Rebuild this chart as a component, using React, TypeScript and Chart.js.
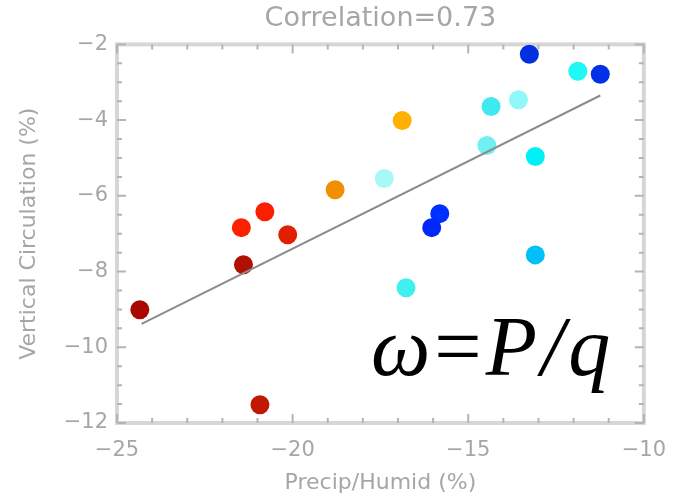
import React, { useEffect, useRef } from "react";
import { Chart, registerables } from "chart.js";

Chart.register(...registerables);

// ---- data ----
const precipHumid = [
  -24.35, -21.4, -21.46, -20.79, -20.14, -20.93, -18.79, -16.88, -17.39, -16.77,
  -15.81, -16.04, -14.47, -14.35, -13.57, -13.09, -13.09, -13.26, -11.88, -11.24,
];
const verticalCirc = [
  -9.01, -7.82, -6.84, -6.42, -7.03, -11.52, -5.84, -4.01, -5.54, -8.43,
  -6.47, -6.84, -4.67, -3.64, -3.46, -4.96, -7.56, -2.26, -2.71, -2.79,
];
const pointColors = [
  "#a80800", "#b01000", "#ff2000", "#f82000", "#e02000", "#c01800", "#f09000", "#ffb000", "#a8f8f8", "#40f0f0",
  "#0030ff", "#0028f8", "#70f0f0", "#40e8f0", "#90f8f8", "#00f0f8", "#00c0f8", "#0030e0", "#20f8f8", "#0030e8",
];
const fitX = [-24.3, -11.24];
const fitY = [-9.38, -3.35];
const xTickValues = [-25, -20, -15, -10];
const yTickValues = [-12, -10, -8, -6, -4, -2];
const titleText = "Correlation=0.73";
const xLabel = "Precip/Humid (%)";
const yLabel = "Vertical Circulation (%)";
const formulaGlyphs = ["\u03c9", "=", "P", "/", "q"];

const GRAY = "#a6a6a6";
const FONT = "'DejaVu Sans', sans-serif";

const fmt = (v: number) => (v < 0 ? "\u2212" + Math.abs(v) : String(v));

const framePlugin = {
  id: "frameTicks",
  beforeDatasetsDraw(chart: any) {
    const { ctx, chartArea } = chart;
    const xs = chart.scales.x;
    const ys = chart.scales.y;
    const { left, right, top, bottom } = chartArea;
    ctx.save();
    ctx.strokeStyle = "#d6d6d6";
    ctx.lineWidth = 4;
    ctx.strokeRect(left, top, right - left, bottom - top);
    ctx.strokeStyle = "#b4b4b4";
    ctx.lineWidth = 2;
    ctx.beginPath();
    for (let v = xs.min; v <= xs.max + 1e-9; v += 1) {
      const px = xs.getPixelForValue(v);
      const len = Math.abs(v % 5) < 1e-9 ? 9 : 5;
      ctx.moveTo(px, bottom);
      ctx.lineTo(px, bottom - len);
      ctx.moveTo(px, top);
      ctx.lineTo(px, top + len);
    }
    for (let v = ys.min; v <= ys.max + 1e-9; v += 0.5) {
      const py = ys.getPixelForValue(v);
      const len = Math.abs(v % 2) < 1e-9 ? 9 : 5;
      ctx.moveTo(left, py);
      ctx.lineTo(left + len, py);
      ctx.moveTo(right, py);
      ctx.lineTo(right - len, py);
    }
    ctx.stroke();
    ctx.restore();
  },
};

const formulaPlugin = {
  id: "formula",
  afterDraw(chart: any) {
    const { ctx } = chart;
    ctx.save();
    ctx.fillStyle = "#000";
    ctx.textBaseline = "alphabetic";
    const size = 84;
    const italic = `italic ${size}px 'Liberation Serif', 'DejaVu Serif', serif`;
    const upright = `${size}px 'Liberation Serif', 'DejaVu Serif', serif`;
    let x = 371;
    const y = 375;
    const gap = 4;
    formulaGlyphs.forEach((t) => {
      ctx.font = t === "=" ? upright : italic;
      ctx.fillText(t, x, y);
      x += ctx.measureText(t).width + gap;
    });
    ctx.restore();
  },
};

export default function App() {
  const ref = useRef<HTMLCanvasElement | null>(null);
  useEffect(() => {
    document.body.style.margin = "0";
    const canvas = ref.current;
    if (!canvas) return;
    const scatterData = precipHumid.map((x, i) => ({ x, y: verticalCirc[i] }));
    const fitData = fitX.map((x, i) => ({ x, y: fitY[i] }));
    const chart = new Chart(canvas, {
      type: "scatter",
      data: {
        datasets: [
          {
            type: "line",
            data: fitData,
            borderColor: "#8c8c8c",
            borderWidth: 2,
            pointRadius: 0,
            fill: false,
          } as any,
          {
            data: scatterData,
            backgroundColor: pointColors,
            borderWidth: 0,
            pointRadius: 9.5,
          },
        ],
      },
      options: {
        animation: false,
        responsive: true,
        maintainAspectRatio: false,
        layout: { padding: { left: 0, right: 30, top: 0, bottom: 0 } },
        plugins: {
          legend: { display: false },
          tooltip: { enabled: false },
          title: {
            display: true,
            fullSize: false,
            text: titleText,
            color: GRAY,
            font: { size: 27, family: FONT, weight: "normal" },
            padding: { top: 3, bottom: 9 },
          },
        },
        scales: {
          x: {
            type: "linear",
            min: -25,
            max: -10,
            afterBuildTicks: (s: any) => {
              s.ticks = xTickValues.map((v) => ({ value: v }));
            },
            afterFit: (s: any) => {
              s.height = 72;
            },
            grid: { display: false, drawTicks: false },
            border: { display: false },
            ticks: {
              color: GRAY,
              font: { size: 21, family: FONT },
              padding: 15,
              maxRotation: 0,
              autoSkip: false,
              callback: (v: any) => fmt(Number(v)),
            },
            title: {
              display: true,
              text: xLabel,
              color: GRAY,
              font: { size: 22, family: FONT },
              padding: { top: 0, bottom: -1 },
            },
          },
          y: {
            type: "linear",
            min: -12,
            max: -2,
            afterBuildTicks: (s: any) => {
              s.ticks = yTickValues.map((v) => ({ value: v }));
            },
            afterFit: (s: any) => {
              s.width = 117;
            },
            grid: { display: false, drawTicks: false },
            border: { display: false },
            ticks: {
              color: GRAY,
              font: { size: 21, family: FONT },
              padding: 9,
              autoSkip: false,
              callback: (v: any) => fmt(Number(v)),
            },
            title: {
              display: true,
              text: yLabel,
              color: GRAY,
              font: { size: 22, family: FONT },
              padding: { top: 16, bottom: 0 },
            },
          },
        },
      },
      plugins: [framePlugin, formulaPlugin],
    });
    return () => chart.destroy();
  }, []);
  return (
    <div style={{ width: 681, height: 495, position: "relative" }}>
      <canvas ref={ref} />
    </div>
  );
}
